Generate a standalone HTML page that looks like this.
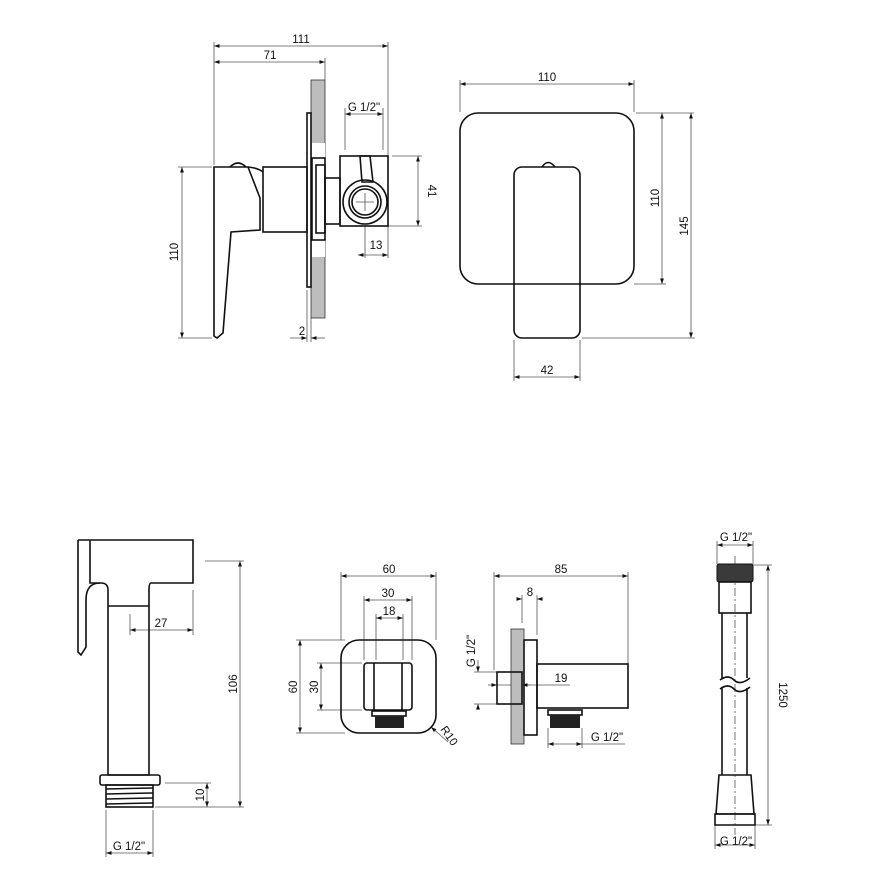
<!DOCTYPE html>
<html><head><meta charset="utf-8"><style>
html,body{margin:0;padding:0;background:#fff}
svg{display:block}
text{font-family:"Liberation Sans",sans-serif;font-size:11.5px;fill:#111}
.o{fill:none;stroke:#111;stroke-width:1.6}
.d{fill:none;stroke:#555;stroke-width:0.8}
.g{fill:#bdbdbd;stroke:#333;stroke-width:0.8}
</style></head><body>
<svg width="870" height="870" viewBox="0 0 870 870">
<defs>
<marker id="a" viewBox="0 0 10 10" refX="10" refY="5" markerWidth="7" markerHeight="7" orient="auto-start-reverse"><path d="M0,1.5 L10,5 L0,8.5 z" fill="#111"/></marker>
</defs>
<g class="d">
<!-- top-left dims -->
<line x1="214" y1="46" x2="388" y2="46" marker-start="url(#a)" marker-end="url(#a)"/>
<line x1="214" y1="62" x2="325" y2="62" marker-start="url(#a)" marker-end="url(#a)"/>
<line x1="214" y1="42" x2="214" y2="165"/>
<line x1="388" y1="42" x2="388" y2="156"/>
<line x1="325" y1="58" x2="325" y2="80"/>
<line x1="345" y1="114" x2="383" y2="114" marker-start="url(#a)" marker-end="url(#a)"/>
<line x1="345" y1="108" x2="345" y2="150"/><line x1="383" y1="108" x2="383" y2="150"/>
<line x1="418" y1="156" x2="418" y2="226" marker-start="url(#a)" marker-end="url(#a)"/>
<line x1="392" y1="156" x2="422" y2="156"/><line x1="365" y1="226" x2="422" y2="226"/>
<line x1="358" y1="255" x2="388" y2="255" marker-start="url(#a)" marker-end="url(#a)"/>
<line x1="365" y1="226" x2="365" y2="258"/><line x1="388" y1="226" x2="388" y2="258"/>
<line x1="182" y1="167" x2="182" y2="338" marker-start="url(#a)" marker-end="url(#a)"/>
<line x1="178" y1="167" x2="212" y2="167"/><line x1="178" y1="338" x2="212" y2="338"/>
<line x1="290" y1="338" x2="307" y2="338" marker-end="url(#a)"/>
<line x1="325" y1="338" x2="311" y2="338" marker-end="url(#a)"/>
<line x1="307" y1="290" x2="307" y2="342"/><line x1="311" y1="318" x2="311" y2="342"/>
<!-- top-right dims -->
<line x1="460" y1="84" x2="634" y2="84" marker-start="url(#a)" marker-end="url(#a)"/>
<line x1="460" y1="80" x2="460" y2="112"/><line x1="634" y1="80" x2="634" y2="112"/>
<line x1="662" y1="113" x2="662" y2="284" marker-start="url(#a)" marker-end="url(#a)"/>
<line x1="636" y1="113" x2="694" y2="113"/><line x1="634" y1="284" x2="666" y2="284"/>
<line x1="691" y1="113" x2="691" y2="338" marker-start="url(#a)" marker-end="url(#a)"/>
<line x1="582" y1="338" x2="695" y2="338"/>
<line x1="514" y1="377" x2="580" y2="377" marker-start="url(#a)" marker-end="url(#a)"/>
<line x1="514" y1="340" x2="514" y2="381"/><line x1="580" y1="340" x2="580" y2="381"/>
<!-- hand shower dims -->
<line x1="240" y1="561" x2="240" y2="807" marker-start="url(#a)" marker-end="url(#a)"/>
<line x1="205" y1="561" x2="244" y2="561"/><line x1="155" y1="807" x2="244" y2="807"/>
<line x1="130" y1="630" x2="193" y2="630" marker-start="url(#a)" marker-end="url(#a)"/>
<line x1="130" y1="614" x2="130" y2="635"/><line x1="193" y1="590" x2="193" y2="635"/>
<line x1="207" y1="783" x2="207" y2="807" marker-start="url(#a)" marker-end="url(#a)"/>
<line x1="165" y1="783" x2="211" y2="783"/>
<line x1="106" y1="853" x2="153" y2="853" marker-start="url(#a)" marker-end="url(#a)"/>
<line x1="106" y1="810" x2="106" y2="857"/><line x1="153" y1="810" x2="153" y2="857"/>
<!-- square fitting dims -->
<line x1="341" y1="576" x2="436" y2="576" marker-start="url(#a)" marker-end="url(#a)"/>
<line x1="341" y1="572" x2="341" y2="640"/><line x1="436" y1="572" x2="436" y2="640"/>
<line x1="364" y1="600" x2="412" y2="600" marker-start="url(#a)" marker-end="url(#a)"/>
<line x1="364" y1="596" x2="364" y2="660"/><line x1="412" y1="596" x2="412" y2="660"/>
<line x1="376" y1="618" x2="403" y2="618" marker-start="url(#a)" marker-end="url(#a)"/>
<line x1="376" y1="614" x2="376" y2="660"/><line x1="403" y1="614" x2="403" y2="660"/>
<line x1="300" y1="640" x2="300" y2="733" marker-start="url(#a)" marker-end="url(#a)"/>
<line x1="296" y1="640" x2="345" y2="640"/><line x1="296" y1="733" x2="345" y2="733"/>
<line x1="321" y1="663" x2="321" y2="710" marker-start="url(#a)" marker-end="url(#a)"/>
<line x1="317" y1="663" x2="362" y2="663"/><line x1="317" y1="710" x2="362" y2="710"/>
<line x1="448" y1="742" x2="431" y2="727" marker-end="url(#a)"/>
<!-- side fitting dims -->
<line x1="494" y1="576" x2="628" y2="576" marker-start="url(#a)" marker-end="url(#a)"/>
<line x1="494" y1="572" x2="494" y2="670"/><line x1="628" y1="572" x2="628" y2="664"/>
<line x1="517" y1="599" x2="522" y2="599" marker-end="url(#a)"/><line x1="542" y1="599" x2="537" y2="599" marker-end="url(#a)"/>
<line x1="522" y1="595" x2="522" y2="623"/><line x1="537" y1="595" x2="537" y2="635"/>
<line x1="478" y1="660" x2="478" y2="672" marker-end="url(#a)"/><line x1="478" y1="710" x2="478" y2="704" marker-end="url(#a)"/>
<line x1="474" y1="672" x2="497" y2="672"/><line x1="474" y1="704" x2="497" y2="704"/>
<line x1="493" y1="685" x2="570" y2="685"/>
<line x1="488" y1="685" x2="497" y2="685" marker-end="url(#a)"/><line x1="530" y1="685" x2="522" y2="685" marker-end="url(#a)"/>
<line x1="548" y1="744" x2="582" y2="744" marker-start="url(#a)" marker-end="url(#a)"/>
<line x1="548" y1="728" x2="548" y2="748"/><line x1="582" y1="728" x2="582" y2="748"/><line x1="582" y1="744" x2="625" y2="744"/>
<!-- hose dims -->
<line x1="717" y1="545" x2="753" y2="545" marker-start="url(#a)" marker-end="url(#a)"/>
<line x1="717" y1="541" x2="717" y2="564"/><line x1="753" y1="541" x2="753" y2="564"/>
<line x1="768" y1="565" x2="768" y2="825" marker-start="url(#a)" marker-end="url(#a)"/>
<line x1="753" y1="565" x2="772" y2="565"/><line x1="755" y1="825" x2="772" y2="825"/>
<line x1="715" y1="845" x2="755" y2="845" marker-start="url(#a)" marker-end="url(#a)"/>
<line x1="715" y1="825" x2="715" y2="849"/><line x1="755" y1="825" x2="755" y2="849"/>
<line x1="735" y1="556" x2="735" y2="835" stroke-dasharray="8,3,2,3"/>
<line x1="365" y1="193" x2="365" y2="211"/><line x1="356" y1="202" x2="374" y2="202"/>
</g>

<!-- top-left body -->
<rect x="311" y="80" width="14" height="238" class="g"/>
<rect x="312" y="143" width="13" height="114" fill="#fff" stroke="none"/>
<rect x="307" y="113" width="4" height="174" class="o" stroke-width="1"/>
<rect x="312" y="158" width="13" height="82" class="o" stroke-width="1.2"/>
<rect x="316" y="165" width="9" height="68" class="o" stroke-width="1"/>
<rect x="263" y="167" width="44" height="65" class="o"/>
<path d="M214,167 L248,167 L260,198 L260,230 L231,232 L223,333 L217,338 L214,336 Z" class="o"/>
<path d="M230,167 Q238,159 246,167" class="o"/>
<path d="M248,167 Q258,168 263,172" class="o" stroke-width="1"/>
<rect x="325" y="178" width="15" height="46" class="o"/>
<rect x="340" y="156" width="48" height="70" class="o"/>
<circle cx="365" cy="202" r="22" class="o" fill="#fff"/>
<circle cx="365" cy="202" r="16" class="o"/>
<circle cx="365" cy="202" r="13" class="o" stroke-width="1"/>
<path d="M360,156 L370,156 L373,182 L362,182 Z" class="o" fill="#fff"/>

<!-- top-right front -->
<rect x="460" y="113" width="174" height="171" rx="18" class="o" stroke-width="1.3"/>
<path d="M542,167 Q548,158 555,167" class="o"/>
<rect x="514" y="167" width="66" height="171" rx="8" class="o" fill="#fff" stroke-width="2"/>

<!-- hand shower -->
<path d="M78,540 L193,540 L193,583 L151,583 Q149,583 149,590 L149,775 L108,775 L108,590 Q108,583 101,583 L90,583 L90,540" class="o"/>
<path d="M78,540 L78,652 L81,655 L86,647 L86,600 Q86,583 100,583" class="o"/>
<line x1="108" y1="606" x2="149" y2="606" class="o" stroke-width="1.3"/>
<rect x="100" y="775" width="60" height="10" rx="2" class="o"/>
<rect x="106" y="785" width="47" height="22" class="o"/>
<g stroke="#111" stroke-width="1.5"><line x1="106" y1="789" x2="153" y2="788"/><line x1="106" y1="794" x2="153" y2="793"/><line x1="106" y1="799" x2="153" y2="798"/><line x1="106" y1="804" x2="153" y2="803"/></g>

<!-- square fitting -->
<rect x="341" y="640" width="95" height="93" rx="18" class="o"/>
<rect x="364" y="663" width="48" height="47" rx="3" class="o"/>
<line x1="374" y1="663" x2="374" y2="710" class="o" stroke-width="1"/><line x1="402" y1="663" x2="402" y2="710" class="o" stroke-width="1"/>
<rect x="372" y="711" width="34" height="5" class="o" stroke-width="1.2"/>
<rect x="375" y="716" width="29" height="12" fill="#222"/>

<!-- side fitting -->
<rect x="511" y="629" width="13" height="115" class="g"/>
<rect x="524" y="640" width="13" height="95" class="o" fill="#fff"/>
<rect x="537" y="664" width="91" height="44" class="o"/>
<rect x="497" y="672" width="25" height="32" class="o" fill="#fff"/>
<rect x="548" y="710" width="34" height="5" class="o" stroke-width="1.2"/>
<rect x="550" y="715" width="30" height="13" fill="#222"/>

<!-- hose -->
<rect x="717" y="564" width="36" height="18" rx="2" fill="#3a3a3a" stroke="#111"/>
<rect x="719" y="582" width="32" height="31" class="o" stroke-width="1.3"/>
<line x1="722" y1="613" x2="722" y2="678" class="o" stroke-width="1.3"/><line x1="747" y1="613" x2="747" y2="678" class="o" stroke-width="1.3"/>
<line x1="722" y1="688" x2="722" y2="775" class="o" stroke-width="1.3"/><line x1="747" y1="688" x2="747" y2="775" class="o" stroke-width="1.3"/>
<path d="M720,680 Q728,674 734,680 T750,678 M720,689 Q728,683 734,689 T750,687" class="o" stroke-width="1.1"/>
<path d="M719,775 L751,775 L754,814 L716,814 Z" class="o" stroke-width="1.3"/>
<path d="M715,814 L755,814 L755,825 L715,825 Z" class="o" stroke-width="1.3"/>

<!-- texts -->
<text x="301" y="43" text-anchor="middle">111</text>
<text x="270" y="59" text-anchor="middle">71</text>
<text x="364" y="111" text-anchor="middle">G 1/2"</text>
<text x="376" y="249" text-anchor="middle">13</text>
<text x="302" y="335" text-anchor="middle">2</text>
<text transform="translate(428,191) rotate(90)" text-anchor="middle">41</text>
<text transform="translate(178,252) rotate(-90)" text-anchor="middle">110</text>
<text x="547" y="81" text-anchor="middle">110</text>
<text transform="translate(659,198) rotate(-90)" text-anchor="middle">110</text>
<text transform="translate(688,226) rotate(-90)" text-anchor="middle">145</text>
<text x="547" y="374" text-anchor="middle">42</text>
<text x="161" y="627" text-anchor="middle">27</text>
<text transform="translate(237,684) rotate(-90)" text-anchor="middle">106</text>
<text transform="translate(204,795) rotate(-90)" text-anchor="middle">10</text>
<text x="129" y="850" text-anchor="middle">G 1/2"</text>
<text x="389" y="573" text-anchor="middle">60</text>
<text x="388" y="597" text-anchor="middle">30</text>
<text x="389" y="615" text-anchor="middle">18</text>
<text transform="translate(297,687) rotate(-90)" text-anchor="middle">60</text>
<text transform="translate(318,687) rotate(-90)" text-anchor="middle">30</text>
<text transform="translate(446,738) rotate(55)" text-anchor="middle">R10</text>
<text x="561" y="573" text-anchor="middle">85</text>
<text x="530" y="596" text-anchor="middle">8</text>
<text transform="translate(475,651) rotate(-90)" text-anchor="middle">G 1/2"</text>
<text x="561" y="682" text-anchor="middle">19</text>
<text x="607" y="741" text-anchor="middle">G 1/2"</text>
<text x="736" y="541" text-anchor="middle">G 1/2"</text>
<text transform="translate(779,695) rotate(90)" text-anchor="middle">1250</text>
<text x="736" y="845" text-anchor="middle">G 1/2"</text>
</svg>
</body></html>
